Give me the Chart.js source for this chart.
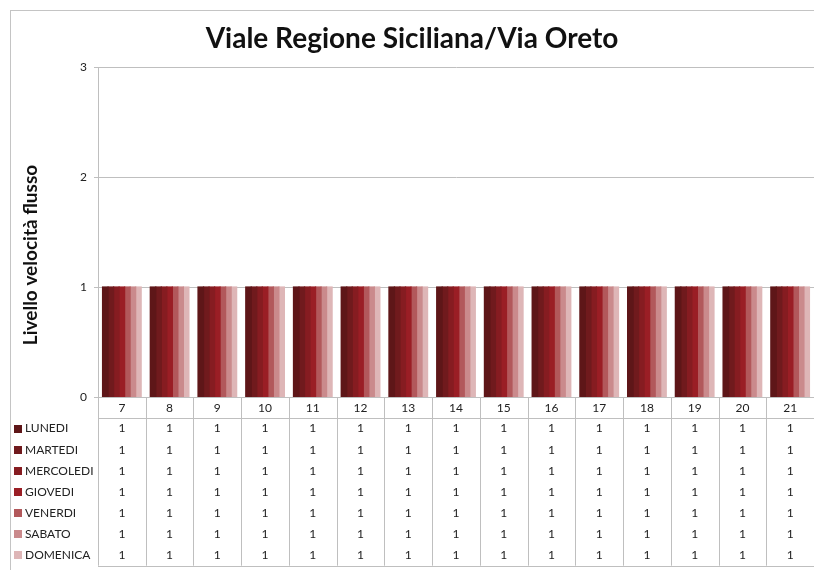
<!DOCTYPE html>
<html>
<head>
<meta charset="utf-8">
<script src="https://cdn.jsdelivr.net/npm/chart.js@4.4.1/dist/chart.umd.min.js"></script>
<style>
  html, body { margin: 0; padding: 0; background: #ffffff; }
  #wrap { width: 814px; height: 570px; }
</style>
</head>
<body>
<div id="wrap"><canvas id="c" width="814" height="570"></canvas></div>
<script>
const chartTitle = 'Viale Regione Siciliana/Via Oreto';
const yAxisTitle = 'Livello velocità flusso';
const categories = ['7', '8', '9', '10', '11', '12', '13', '14', '15', '16', '17', '18', '19', '20', '21'];
const seriesNames = ['LUNEDI', 'MARTEDI', 'MERCOLEDI', 'GIOVEDI', 'VENERDI', 'SABATO', 'DOMENICA'];
const lunedi    = [1, 1, 1, 1, 1, 1, 1, 1, 1, 1, 1, 1, 1, 1, 1];
const martedi   = [1, 1, 1, 1, 1, 1, 1, 1, 1, 1, 1, 1, 1, 1, 1];
const mercoledi = [1, 1, 1, 1, 1, 1, 1, 1, 1, 1, 1, 1, 1, 1, 1];
const giovedi   = [1, 1, 1, 1, 1, 1, 1, 1, 1, 1, 1, 1, 1, 1, 1];
const venerdi   = [1, 1, 1, 1, 1, 1, 1, 1, 1, 1, 1, 1, 1, 1, 1];
const sabato    = [1, 1, 1, 1, 1, 1, 1, 1, 1, 1, 1, 1, 1, 1, 1];
const domenica  = [1, 1, 1, 1, 1, 1, 1, 1, 1, 1, 1, 1, 1, 1, 1];
const yTicks = [0, 1, 2, 3];

const seriesValues = [lunedi, martedi, mercoledi, giovedi, venerdi, sabato, domenica];
const seriesColors = ['#5e1618', '#701a1d', '#861c21', '#9a1e25', '#b2585b', '#ca8a8c', '#deb6b7'];

const FONT = 'Lato, "Open Sans", sans-serif';
const LINE = '#bfbfbf';
const TEXT = '#222222';

const framePlugin = {
  id: 'frame',
  beforeDraw(chart) {
    const ctx = chart.ctx;
    ctx.save();
    ctx.fillStyle = '#ffffff';
    ctx.fillRect(0, 0, chart.width, chart.height);
    ctx.strokeStyle = '#c4c4c4';
    ctx.lineWidth = 1;
    ctx.strokeRect(10.5, 10.5, chart.width + 20, chart.height + 20);
    ctx.restore();
  }
};

const axisTitlePlugin = {
  id: 'yAxisTitle',
  afterDraw(chart) {
    const ctx = chart.ctx;
    ctx.save();
    ctx.translate(31, 255);
    ctx.rotate(-Math.PI / 2);
    ctx.fillStyle = '#111111';
    ctx.font = 'bold 19px ' + FONT;
    ctx.textAlign = 'center';
    ctx.textBaseline = 'middle';
    ctx.fillText(yAxisTitle, 0, 0);
    ctx.restore();
  }
};

const tablePlugin = {
  id: 'dataTable',
  afterDraw(chart) {
    const ctx = chart.ctx;
    const xs = chart.scales.x;
    const area = chart.chartArea;
    const n = chart.data.labels.length;
    const catW = (area.right - area.left) / n;
    const top = area.bottom;
    const labelRowBottom = top + 21;
    const rowH = 21.1;
    const nRows = chart.data.datasets.length;
    const tableBottom = labelRowBottom + rowH * nRows;

    ctx.save();
    ctx.strokeStyle = LINE;
    ctx.lineWidth = 1;
    ctx.beginPath();
    for (let i = 0; i <= n; i++) {
      const x = Math.round(xs.getPixelForValue(Math.min(i, n - 1)) + (i < n ? -catW / 2 : catW / 2)) + 0.5;
      ctx.moveTo(x, top);
      ctx.lineTo(x, tableBottom);
    }
    const yA = Math.round(labelRowBottom) + 0.5;
    const yB = Math.round(tableBottom) + 0.5;
    ctx.moveTo(area.left, yA); ctx.lineTo(area.right, yA);
    ctx.moveTo(area.left, yB); ctx.lineTo(area.right, yB);
    ctx.stroke();

    ctx.textBaseline = 'middle';
    chart.data.datasets.forEach((ds, d) => {
      const cy = labelRowBottom + rowH * (d + 0.5);
      ctx.fillStyle = ds.backgroundColor;
      ctx.fillRect(14, Math.round(cy) - 4, 8, 8);
      ctx.fillStyle = TEXT;
      ctx.font = '12px ' + FONT;
      ctx.textAlign = 'left';
      ctx.fillText(ds.label, 25, cy);
      ctx.textAlign = 'center';
      ds.data.forEach((v, i) => {
        ctx.fillText(String(v), xs.getPixelForValue(i), cy);
      });
    });
    ctx.restore();
  }
};

new Chart(document.getElementById('c'), {
  type: 'bar',
  data: {
    labels: categories,
    datasets: seriesNames.map((name, i) => ({
      label: name,
      data: seriesValues[i],
      backgroundColor: seriesColors[i],
      borderWidth: 0,
      inflateAmount: 0.6,
      barPercentage: 1.0,
      categoryPercentage: 0.81
    }))
  },
  options: {
    responsive: false,
    animation: false,
    devicePixelRatio: 1,
    layout: { padding: { left: 10, right: 0, top: 0, bottom: 0 } },
    plugins: {
      legend: { display: false },
      tooltip: { enabled: false },
      title: {
        display: true,
        text: chartTitle,
        color: '#111111',
        font: { family: FONT, size: 28, weight: 'bold', lineHeight: 1.2 },
        padding: { top: 22, bottom: 11.4 }
      }
    },
    scales: {
      x: {
        grid: { display: false, drawTicks: false },
        border: { display: true, color: LINE, width: 1 },
        ticks: { color: TEXT, font: { family: FONT, size: 12 }, padding: 4, maxRotation: 0, autoSkip: false },
        afterFit(scale) { scale.height = 173; }
      },
      y: {
        min: 0,
        max: 3,
        afterBuildTicks(scale) { scale.ticks = yTicks.map(v => ({ value: v })); },
        grid: { color: LINE, lineWidth: 1, tickLength: 4, drawTicks: true },
        border: { display: true, color: LINE, width: 1 },
        ticks: { color: TEXT, font: { family: FONT, size: 12 }, padding: 7 },
        title: { display: false, text: yAxisTitle },
        afterFit(scale) { scale.width = 88; }
      }
    }
  },
  plugins: [framePlugin, tablePlugin, axisTitlePlugin]
});
</script>
</body>
</html>
